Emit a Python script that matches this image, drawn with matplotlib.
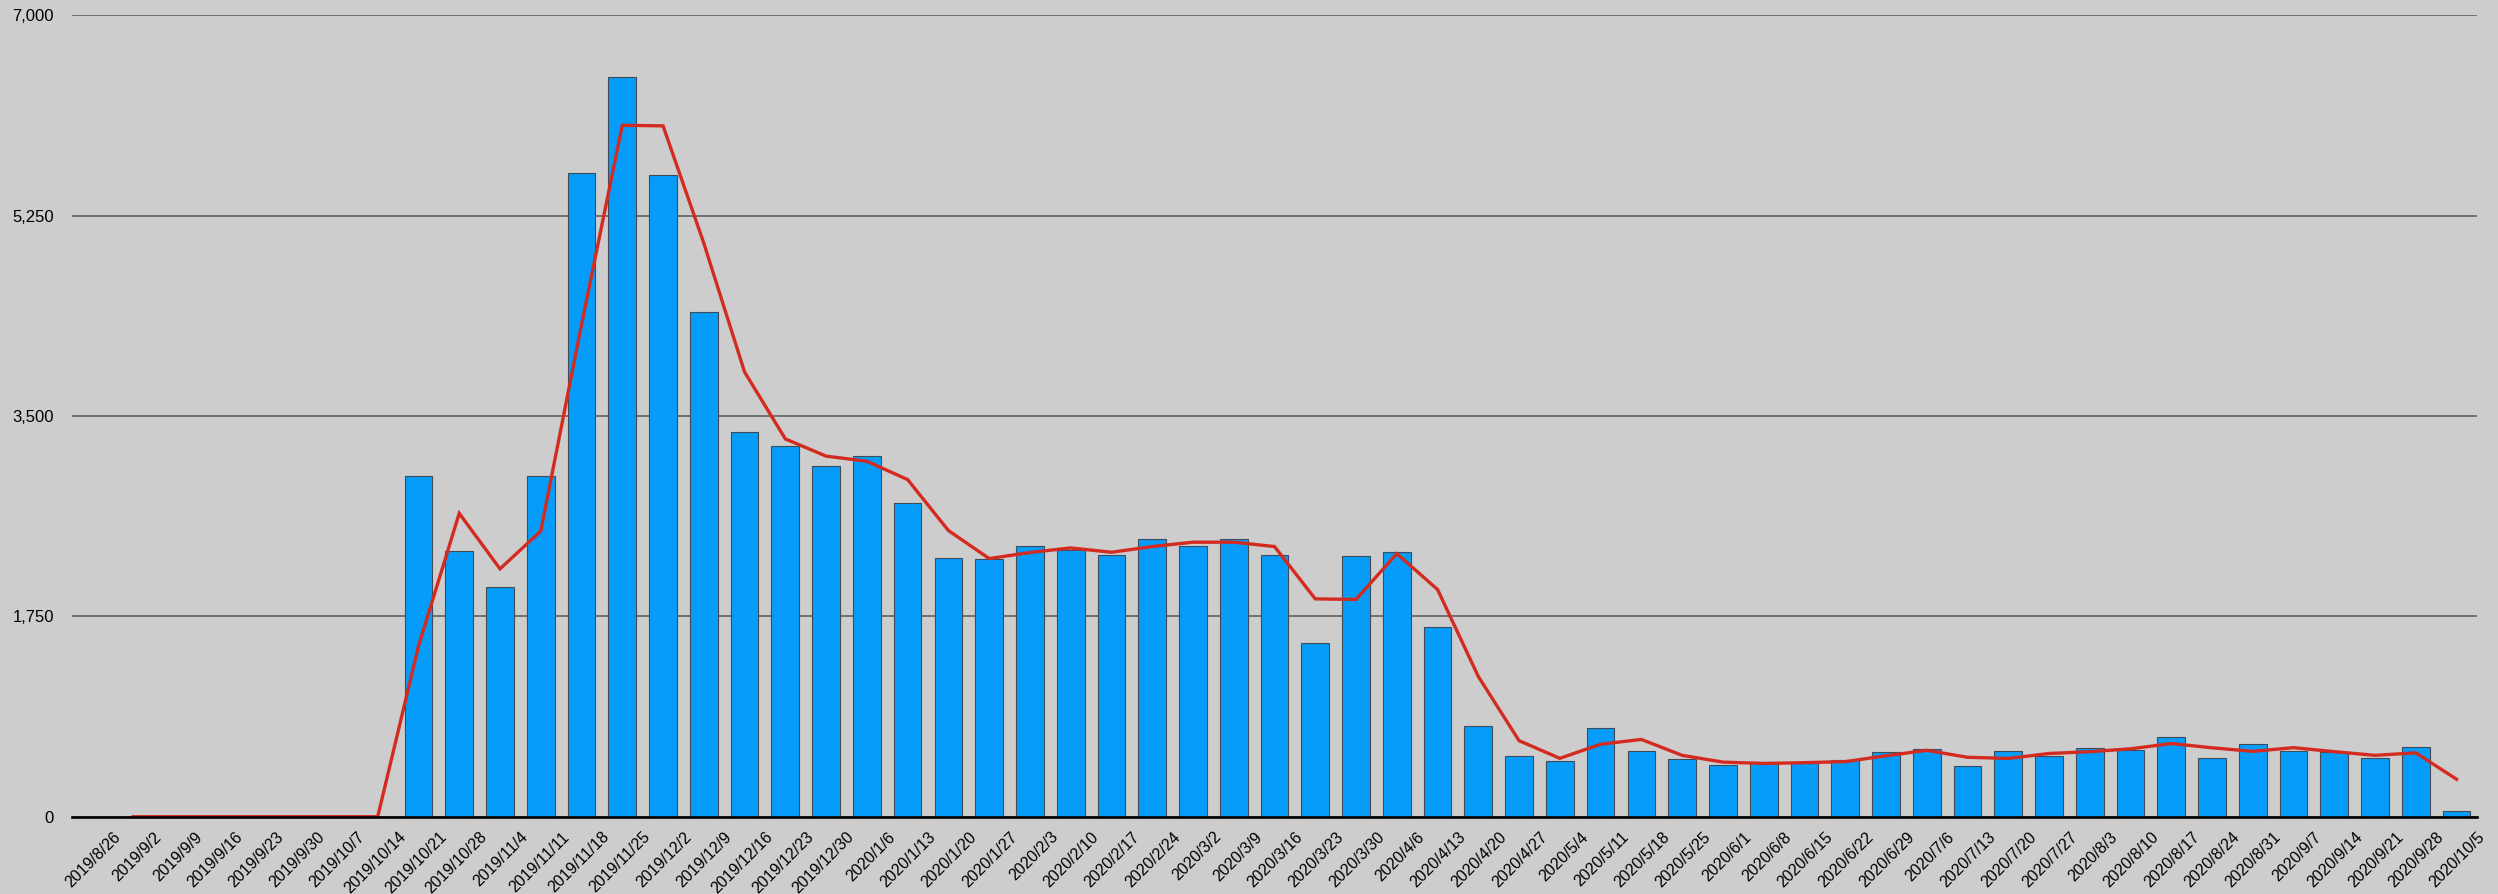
import matplotlib
matplotlib.use("Agg")
import matplotlib.pyplot as plt
import matplotlib.transforms as mtransforms
from matplotlib.ticker import FuncFormatter, FixedLocator

plt.rcParams['font.family'] = ['Liberation Sans', 'DejaVu Sans']

weeks = [
    '2019/8/26', '2019/9/2', '2019/9/9', '2019/9/16', '2019/9/23', '2019/9/30',
    '2019/10/7', '2019/10/14', '2019/10/21', '2019/10/28', '2019/11/4', '2019/11/11',
    '2019/11/18', '2019/11/25', '2019/12/2', '2019/12/9', '2019/12/16', '2019/12/23',
    '2019/12/30', '2020/1/6', '2020/1/13', '2020/1/20', '2020/1/27', '2020/2/3',
    '2020/2/10', '2020/2/17', '2020/2/24', '2020/3/2', '2020/3/9', '2020/3/16',
    '2020/3/23', '2020/3/30', '2020/4/6', '2020/4/13', '2020/4/20', '2020/4/27',
    '2020/5/4', '2020/5/11', '2020/5/18', '2020/5/25', '2020/6/1', '2020/6/8',
    '2020/6/15', '2020/6/22', '2020/6/29', '2020/7/6', '2020/7/13', '2020/7/20',
    '2020/7/27', '2020/8/3', '2020/8/10', '2020/8/17', '2020/8/24', '2020/8/31',
    '2020/9/7', '2020/9/14', '2020/9/21', '2020/9/28', '2020/10/5',
]

# weekly totals
weekly = [
    0, 0, 0, 0, 0, 0, 0, 0, 2980, 2320,
    2010, 2980, 5620, 6460, 5610, 4410, 3360, 3240, 3060, 3150,
    2740, 2260, 2250, 2365, 2330, 2290, 2430, 2365, 2430, 2290,
    1515, 2280, 2315, 1655, 795, 533, 487, 778, 571, 501,
    452, 478, 466, 495, 568, 592, 446, 571, 533, 603,
    583, 694, 510, 632, 574, 562, 510, 606, 47,
]

# two-week average, starting at 2019/9/2
trend = [
    0, 0, 0, 0, 0, 0, 0, 1490, 2650,
    2165, 2495, 4300, 6040, 6035, 5010, 3885, 3300, 3150, 3105,
    2945, 2500, 2255, 2308, 2348, 2310, 2360, 2398, 2398, 2360,
    1903, 1898, 2298, 1985, 1225, 664, 510, 633, 675, 536,
    477, 465, 472, 481, 532, 580, 519, 509, 552, 568,
    593, 639, 602, 571, 603, 568, 536, 558, 327,
]

y_ticks = [0, 1750, 3500, 5250, 7000]


def thousands(value, pos):
    return f"{int(value):,}"


bg = '#cdcdcd'
W, H = 2498, 894
fig = plt.figure(figsize=(W / 100, H / 100), dpi=100, facecolor=bg)
ax = fig.add_axes([72 / W, 77.3 / H, (2477 - 72) / W, (878.6 - 77.3) / H])
ax.set_facecolor(bg)

x = list(range(len(weeks)))
ax.bar(x, weekly, width=0.68, color='#069dfa', edgecolor='#3f4c58',
       linewidth=0.8, zorder=3)
ax.plot(x[1:], trend, color='#d42b21', linewidth=2.4, zorder=4,
        solid_joinstyle='miter')

ax.set_xlim(-0.5, len(weeks) - 0.5)
ax.set_ylim(0, 7000)

ax.yaxis.set_major_locator(FixedLocator(y_ticks))
ax.yaxis.set_major_formatter(FuncFormatter(thousands))
ax.yaxis.grid(True, color='#585858', linewidth=1.1)
ax.set_axisbelow(True)

for side in ['left', 'right', 'top']:
    ax.spines[side].set_visible(False)
ax.spines['bottom'].set_color('black')
ax.spines['bottom'].set_linewidth(1.9)
ax.spines['bottom'].set_zorder(5)

ax.set_xticks(x)
ax.set_xticklabels(weeks, rotation=45, ha='right', fontsize=11.5)
ax.tick_params(axis='x', length=0, pad=9)
ax.tick_params(axis='y', length=0, pad=13, labelsize=12)

shift = mtransforms.ScaledTranslation(31 / 100, 0, fig.dpi_scale_trans)
for lbl in ax.get_xticklabels():
    lbl.set_transform(lbl.get_transform() + shift)

fig.savefig('out.png', dpi=100, facecolor=bg)
